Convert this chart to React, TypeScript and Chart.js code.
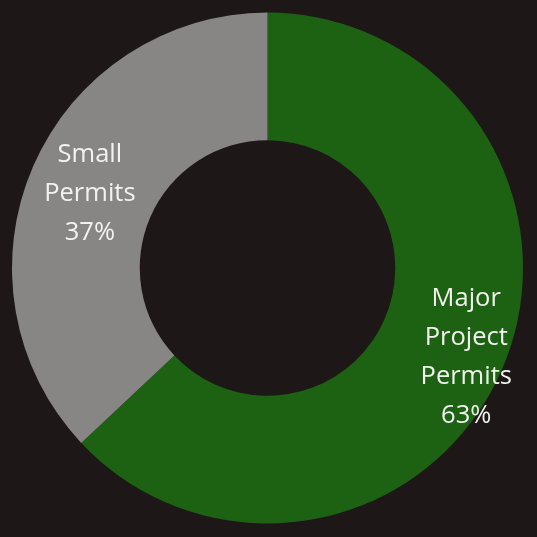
import React, { useEffect, useRef } from "react";
import { Chart, registerables } from "chart.js";

Chart.register(...registerables);

const categories = ["Major Project Permits", "Small Permits"];
const values = [63, 37];
const labelLines = [["Major", "Project", "Permits", "63%"], ["Small", "Permits", "37%"]];
const colors = ["#1d6113", "#888585"];

const labelPlugin = {
  id: "sliceLabels",
  afterDatasetsDraw(chart: any) {
    const ctx = chart.ctx;
    const meta = chart.getDatasetMeta(0);
    const radiusFactors = [1.13, 1.01];
    meta.data.forEach((arc: any, i: number) => {
      const { x, y, startAngle, endAngle, innerRadius, outerRadius } = arc.getProps(
        ["x", "y", "startAngle", "endAngle", "innerRadius", "outerRadius"],
        true
      );
      const mid = (startAngle + endAngle) / 2;
      const r = ((innerRadius + outerRadius) / 2) * radiusFactors[i];
      const cx = x + Math.cos(mid) * r;
      const cy = y + Math.sin(mid) * r + 3;
      const lines = labelLines[i];
      const lh = 39;
      ctx.save();
      ctx.fillStyle = "#f2f2ee";
      ctx.font = "25.5px 'Open Sans'";
      ctx.textAlign = "center";
      ctx.textBaseline = "middle";
      lines.forEach((t: string, j: number) => {
        ctx.fillText(t, cx, cy + (j - (lines.length - 1) / 2) * lh);
      });
      ctx.restore();
    });
  },
};

export default function App() {
  const ref = useRef<HTMLCanvasElement>(null);
  useEffect(() => {
    if (!ref.current) return;
    const chart = new Chart(ref.current, {
      type: "doughnut",
      data: {
        labels: categories,
        datasets: [
          {
            data: values,
            backgroundColor: colors,
            borderWidth: 0,
          },
        ],
      },
      options: {
        animation: false,
        responsive: false,
        cutout: "50%",
        layout: { padding: { top: 9, left: 12, right: 14, bottom: 10 } },
        plugins: { legend: { display: false }, tooltip: { enabled: false } },
      },
      plugins: [labelPlugin],
    });
    return () => chart.destroy();
  }, []);
  return (
    <div
      style={{
        position: "fixed",
        left: 0,
        top: 0,
        width: 537,
        height: 537,
        background: "#1d1817",
      }}
    >
      <canvas ref={ref} width={537} height={537} style={{ width: 537, height: 537, display: "block" }} />
    </div>
  );
}
